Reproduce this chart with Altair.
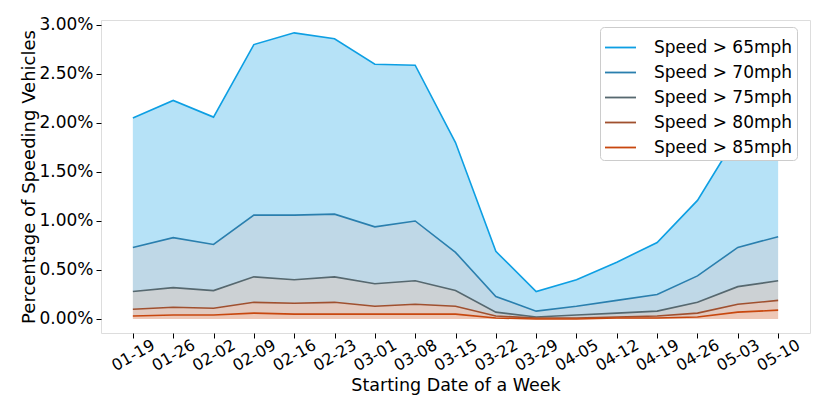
import altair as alt
import pandas as pd

weeks = ["01-19", "01-26", "02-02", "02-09", "02-16", "02-23", "03-01", "03-08", "03-15",
         "03-22", "03-29", "04-05", "04-12", "04-19", "04-26", "05-03", "05-10"]
series = ["Speed > 65mph", "Speed > 70mph", "Speed > 75mph", "Speed > 80mph", "Speed > 85mph"]
s65 = [2.05, 2.23, 2.06, 2.80, 2.92, 2.86, 2.60, 2.59, 1.80, 0.69, 0.28, 0.40, 0.58, 0.78, 1.21, 1.88, 2.01]
s70 = [0.73, 0.83, 0.76, 1.06, 1.06, 1.07, 0.94, 1.00, 0.68, 0.23, 0.08, 0.13, 0.19, 0.25, 0.44, 0.73, 0.84]
s75 = [0.28, 0.32, 0.29, 0.43, 0.40, 0.43, 0.36, 0.39, 0.29, 0.07, 0.02, 0.04, 0.06, 0.08, 0.17, 0.33, 0.39]
s80 = [0.10, 0.12, 0.11, 0.17, 0.16, 0.17, 0.13, 0.15, 0.13, 0.03, 0.01, 0.01, 0.02, 0.03, 0.06, 0.15, 0.19]
s85 = [0.03, 0.04, 0.04, 0.06, 0.05, 0.05, 0.05, 0.05, 0.05, 0.01, 0.00, 0.00, 0.01, 0.01, 0.02, 0.07, 0.09]
colors = ["#0d9fe3", "#2a7fae", "#56686f", "#a0502f", "#c8470e"]

all_vals = [s65, s70, s75, s80, s85]
rows = []
for k, (name, vals) in enumerate(zip(series, all_vals)):
    lower = all_vals[k + 1] if k + 1 < len(all_vals) else [0.0] * len(weeks)
    for w, v, lo in zip(weeks, vals, lower):
        rows.append({"week": w, "series": name, "value": v / 100.0, "lower": lo / 100.0})
df = pd.DataFrame(rows)

font = "DejaVu Sans"
x = alt.X("week:O", sort=weeks, title="Starting Date of a Week",
          scale=alt.Scale(type="point", padding=0.79),
          axis=alt.Axis(labelAngle=-30, labelAlign="center", labelBaseline="middle",
                        labelPadding=17, labelFontSize=16, titleFontSize=17.5,
                        titleFontWeight="normal", titlePadding=3, tickSize=5,
                        tickColor="black", domain=False, labelColor="black",
                        titleColor="black", labelFont=font, titleFont=font))
y = alt.Y("value:Q", title="Percentage of Speeding Vehicles",
          scale=alt.Scale(domain=[-0.00143, 0.03051], nice=False, zero=False),
          axis=alt.Axis(format=".2%", values=[0, 0.005, 0.01, 0.015, 0.02, 0.025, 0.03],
                        labelFontSize=17, titleFontSize=18, titleFontWeight="normal",
                        tickSize=5, tickColor="black", domain=False, grid=False,
                        labelColor="black", titleColor="black", labelPadding=3,
                        titlePadding=0, labelFont=font, titleFont=font))
legend = alt.Legend(title=None, orient="none", legendX=499, legendY=7,
                    symbolType="stroke", symbolSize=961, symbolOpacity=1,
                    symbolStrokeWidth=1.8, labelFontSize=17,
                    labelFont=font, labelColor="black",
                    labelOffset=17, rowPadding=-6, padding=4,
                    fillColor="white", strokeColor="#cccccc",
                    cornerRadius=4, labelLimit=300)
color = alt.Color("series:N", scale=alt.Scale(domain=series, range=colors),
                  sort=series, legend=legend)

base = alt.Chart(df)
areas = base.mark_area(opacity=0.3).encode(
    x=x, y=y, y2="lower:Q", color=color, detail="series:N")
lines = base.mark_line(strokeWidth=1.6).encode(x=x, y=y, color=color)

chart = alt.layer(areas, lines).properties(
    width=709, height=313,
    autosize=alt.AutoSizeParams(type="none"),
    padding={"left": 93, "top": 12, "right": 12, "bottom": 74},
).configure_view(stroke="black", strokeWidth=1).configure(background="white")

chart.save("out.html", embed_options={"renderer": "svg", "actions": False})
